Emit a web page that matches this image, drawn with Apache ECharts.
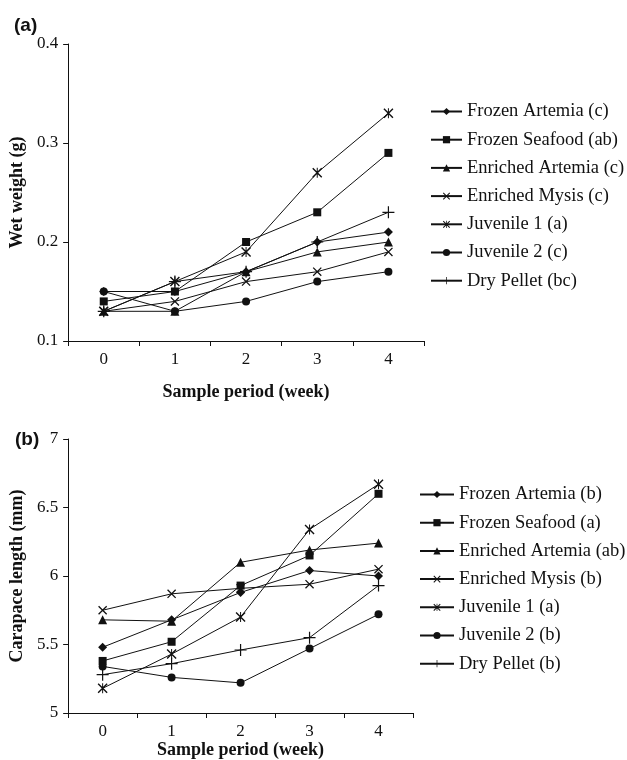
<!DOCTYPE html>
<html>
<head>
<meta charset="utf-8">
<script src="https://cdn.jsdelivr.net/npm/echarts@6/dist/echarts.min.js"></script>
<style>
  html, body { margin: 0; padding: 0; background: #fff; }
  #chart { width: 627px; height: 760px; }
</style>
</head>
<body>
<div id="chart"></div>
<script>
// weeks on the x axis
const weeks = ['0', '1', '2', '3', '4'];

// (a) wet weight, g
const namesA = ['Frozen Artemia (c)', 'Frozen Seafood (ab)', 'Enriched Artemia (c)', 'Enriched Mysis (c)', 'Juvenile 1 (a)', 'Juvenile 2 (c)', 'Dry Pellet (bc)'];
const frozenArtemiaA = [0.15, 0.15, 0.17, 0.20, 0.21];
const frozenSeafoodA = [0.14, 0.15, 0.20, 0.23, 0.29];
const enrichedArtemiaA = [0.13, 0.13, 0.17, 0.19, 0.20];
const enrichedMysisA = [0.13, 0.14, 0.16, 0.17, 0.19];
const juvenile1A = [0.13, 0.16, 0.19, 0.27, 0.33];
const juvenile2A = [0.15, 0.13, 0.14, 0.16, 0.17];
const dryPelletA = [0.13, 0.16, 0.17, 0.20, 0.23];
const ticksA = [0.1, 0.2, 0.3, 0.4];

// (b) carapace length, mm
const namesB = ['Frozen Artemia (b)', 'Frozen Seafood (a)', 'Enriched Artemia (ab)', 'Enriched Mysis (b)', 'Juvenile 1 (a)', 'Juvenile 2 (b)', 'Dry Pellet (b)'];
const frozenArtemiaB = [5.48, 5.68, 5.88, 6.04, 6.00];
const frozenSeafoodB = [5.38, 5.52, 5.93, 6.15, 6.60];
const enrichedArtemiaB = [5.68, 5.67, 6.10, 6.19, 6.24];
const enrichedMysisB = [5.75, 5.87, 5.91, 5.94, 6.05];
const juvenile1B = [5.18, 5.43, 5.70, 6.34, 6.67];
const juvenile2B = [5.34, 5.26, 5.22, 5.47, 5.72];
const dryPelletB = [5.28, 5.36, 5.46, 5.55, 5.93];
const ticksB = [5, 5.5, 6, 6.5, 7];

// marker shapes (filled paths for the stroke-like ones)
const X_PATH = 'path://M0,1 L1,0 L10,9 L9,10 Z M9,0 L10,1 L1,10 L0,9 Z';
const STAR_PATH = 'path://M0,1 L1,0 L10,9 L9,10 Z M9,0 L10,1 L1,10 L0,9 Z M4.5,0 L5.5,0 L5.5,10 L4.5,10 Z';
const PLUS_PATH = 'path://M4.5,0 L5.5,0 L5.5,10 L4.5,10 Z M0,4.5 L10,4.5 L10,5.5 L0,5.5 Z';
const markers = [
  { symbol: 'diamond', size: 9 },
  { symbol: 'rect', size: 8 },
  { symbol: 'triangle', size: 9 },
  { symbol: X_PATH, size: 9 },
  { symbol: STAR_PATH, size: 10 },
  { symbol: 'circle', size: 8 },
  { symbol: PLUS_PATH, size: 12 }
];

const INK = '#111';
const SERIF = '"Liberation Serif", "DejaVu Serif", serif';

function makeSeries(names, rows, axis) {
  return rows.map((vals, i) => ({
    name: names[i],
    type: 'line',
    xAxisIndex: axis,
    yAxisIndex: axis,
    data: vals,
    symbol: markers[i].symbol,
    symbolSize: markers[i].size,
    lineStyle: { color: INK, width: 1 },
    itemStyle: { color: INK },
    emphasis: { disabled: true }
  }));
}

function xAxisOf(grid, gap) {
  return {
    type: 'category', gridIndex: grid, data: weeks, boundaryGap: true,
    name: 'Sample period (week)', nameLocation: 'middle', nameGap: gap,
    nameTextStyle: { fontFamily: SERIF, fontWeight: 'bold', fontSize: 18, color: INK },
    axisLine: { lineStyle: { color: INK, width: 1 } },
    axisTick: { show: true, length: 5, alignWithLabel: false, lineStyle: { color: INK } },
    axisLabel: { fontFamily: SERIF, fontSize: 17, color: INK, margin: 10 },
    splitLine: { show: false }
  };
}

function yAxisOf(grid, name, ticks, gap) {
  return {
    type: 'value', gridIndex: grid, name: name, nameLocation: 'middle', nameGap: gap,
    min: ticks[0], max: ticks[ticks.length - 1], interval: ticks[1] - ticks[0],
    nameTextStyle: { fontFamily: SERIF, fontWeight: 'bold', fontSize: 18, color: INK },
    axisLine: { show: true, lineStyle: { color: INK, width: 1 } },
    axisTick: { show: true, length: 5, lineStyle: { color: INK } },
    axisLabel: { fontFamily: SERIF, fontSize: 17, color: INK, margin: 10 },
    splitLine: { show: false }
  };
}

function legendOf(names, left, top, w) {
  return {
    data: names, orient: 'vertical', left: left, top: top, padding: 0,
    itemWidth: w, itemHeight: 9, itemGap: 9.2,
    selectedMode: false,
    textStyle: { fontFamily: SERIF, fontSize: 18.5, color: INK }
  };
}

const chart = echarts.init(document.getElementById('chart'));
chart.setOption({
  animation: false,
  backgroundColor: '#fff',
  title: [
    { text: '(a)', left: 9, top: 11, textStyle: { fontFamily: '"Liberation Sans", Arial, sans-serif', fontWeight: 'bold', fontSize: 19, color: INK } },
    { text: '(b)', left: 10, top: 425, textStyle: { fontFamily: '"Liberation Sans", Arial, sans-serif', fontWeight: 'bold', fontSize: 19, color: INK } }
  ],
  grid: [
    { left: 63, top: 44, width: 361, height: 297 },
    { left: 63, top: 439, width: 350, height: 274 }
  ],
  xAxis: [xAxisOf(0, 42), xAxisOf(1, 28)],
  yAxis: [yAxisOf(0, 'Wet weight (g)', ticksA, 40), yAxisOf(1, 'Carapace length (mm)', ticksB, 40)],
  legend: [legendOf(namesA, 430, 102, 31), legendOf(namesB, 419, 485, 34)],
  series: [
    ...makeSeries(namesA, [frozenArtemiaA, frozenSeafoodA, enrichedArtemiaA, enrichedMysisA, juvenile1A, juvenile2A, dryPelletA], 0),
    ...makeSeries(namesB, [frozenArtemiaB, frozenSeafoodB, enrichedArtemiaB, enrichedMysisB, juvenile1B, juvenile2B, dryPelletB], 1)
  ]
});
</script>
</body>
</html>
